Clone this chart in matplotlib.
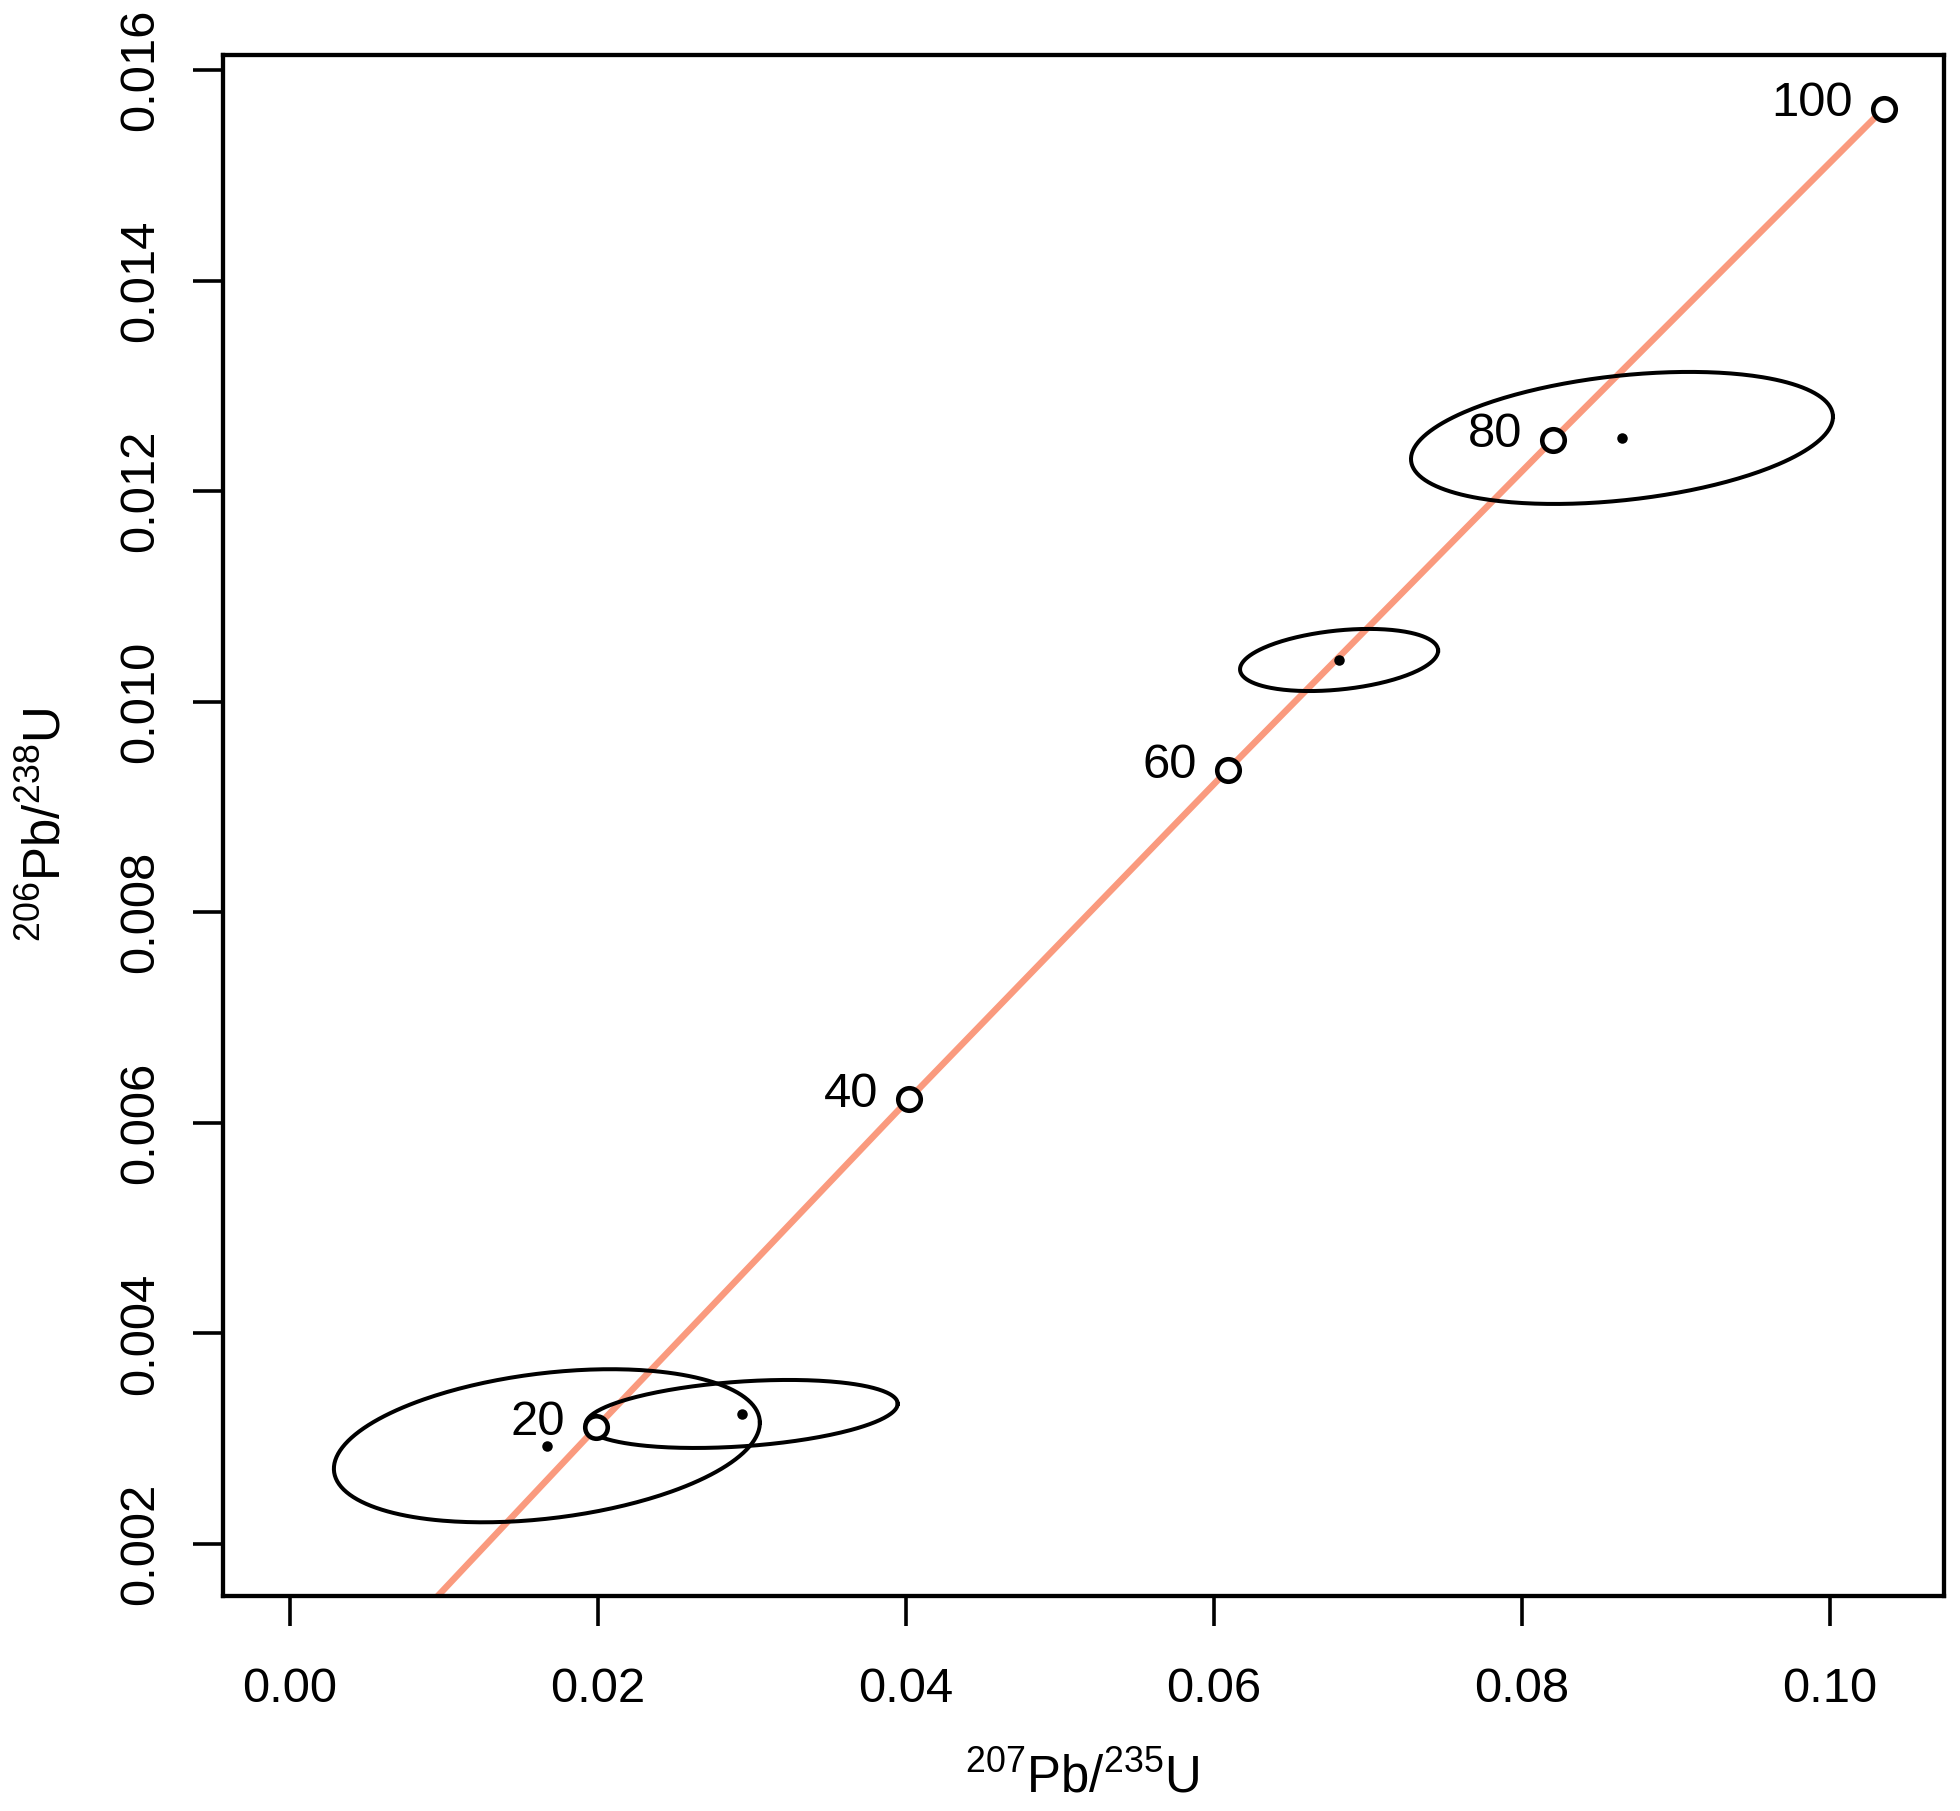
import numpy as np
import matplotlib
matplotlib.use("Agg")
import matplotlib.pyplot as plt

plt.rcParams['font.family'] = ['Liberation Sans', 'DejaVu Sans']
plt.rcParams['mathtext.fontset'] = 'custom'
plt.rcParams['mathtext.rm'] = 'Liberation Sans'
plt.rcParams['mathtext.it'] = 'Liberation Sans'
plt.rcParams['mathtext.bf'] = 'Liberation Sans'

# concordia age marks (Ma) and their ratios
ages = [20, 40, 60, 80, 100]
age_x = [0.01989, 0.04018, 0.06088, 0.08200, 0.10350]
age_y = [0.003107, 0.006224, 0.009351, 0.012486, 0.015633]

# concordia line vertices (starts below the frame, gets clipped)
conc_x = [0.00930, 0.01989, 0.04018, 0.06088, 0.08200, 0.10350]
conc_y = [0.00146, 0.003107, 0.006224, 0.009351, 0.012486, 0.015633]

# samples: centre, half-widths of the error ellipse and correlation
samp_x = [0.01668, 0.02933, 0.06812, 0.08649]
samp_y = [0.002933, 0.003235, 0.010396, 0.012505]
half_x = [0.01383, 0.01013, 0.00643, 0.01370]
half_y = [0.000727, 0.000323, 0.000295, 0.000627]
rho = [0.30, 0.30, 0.30, 0.32]

xticks = [0.00, 0.02, 0.04, 0.06, 0.08, 0.10]
yticks = [0.002, 0.004, 0.006, 0.008, 0.010, 0.012, 0.014, 0.016]

W, H = 1960, 1811
fig = plt.figure(figsize=(W / 100, H / 100), dpi=100)
ax = fig.add_axes([223 / W, 1 - 1596 / H, (1944 - 223) / W, (1596 - 55) / H])

px = 72 / 100  # points per pixel

ax.plot(conc_x, conc_y, color='#FA9A7E', lw=6.5 * px, zorder=1, solid_capstyle='butt')

t = np.linspace(0, 2 * np.pi, 300)
for cx, cy, hx, hy, r in zip(samp_x, samp_y, half_x, half_y, rho):
    ex = cx + hx * np.cos(t)
    ey = cy + hy * (r * np.cos(t) + np.sqrt(1 - r ** 2) * np.sin(t))
    ax.plot(ex, ey, color='black', lw=4 * px, zorder=2)
ax.plot(samp_x, samp_y, 'o', color='black', ms=10.5 * px, mew=0, zorder=3)

ax.plot(age_x, age_y, 'o', mfc='white', mec='black', ms=22.5 * px, mew=4.6 * px, zorder=4)
for a, x, y in zip(ages, age_x, age_y):
    ax.annotate(str(a), (x, y), xytext=(-31 * px, 5 * px), textcoords='offset points',
                ha='right', va='center', fontsize=49 * px, zorder=5)

ax.set_xlim(-0.00435, 0.10740)
ax.set_ylim(0.001506, 0.016142)
ax.set_xticks(xticks)
ax.set_xticklabels(['%.2f' % v for v in xticks])
ax.set_yticks(yticks)
ax.set_yticklabels(['%.3f' % v for v in yticks])

for s in ax.spines.values():
    s.set_linewidth(4.3 * px)
ax.tick_params(direction='out', length=30 * px, width=3.6 * px, labelsize=49 * px)
ax.tick_params(axis='x', pad=41 * px)
ax.tick_params(axis='y', pad=30 * px)
for lab in ax.get_yticklabels():
    lab.set_rotation(90)
    lab.set_va('center')

fig.text(1082 / W, 1 - 1792 / H, '$^{207}$Pb/$^{235}$U', ha='center', va='baseline',
         fontsize=51 * px)
fig.text(60 / W, 1 - 825 / H, '$^{206}$Pb/$^{238}$U', ha='center', va='baseline',
         rotation=90, rotation_mode='anchor', fontsize=51 * px)

fig.savefig('out.png', dpi=100)
